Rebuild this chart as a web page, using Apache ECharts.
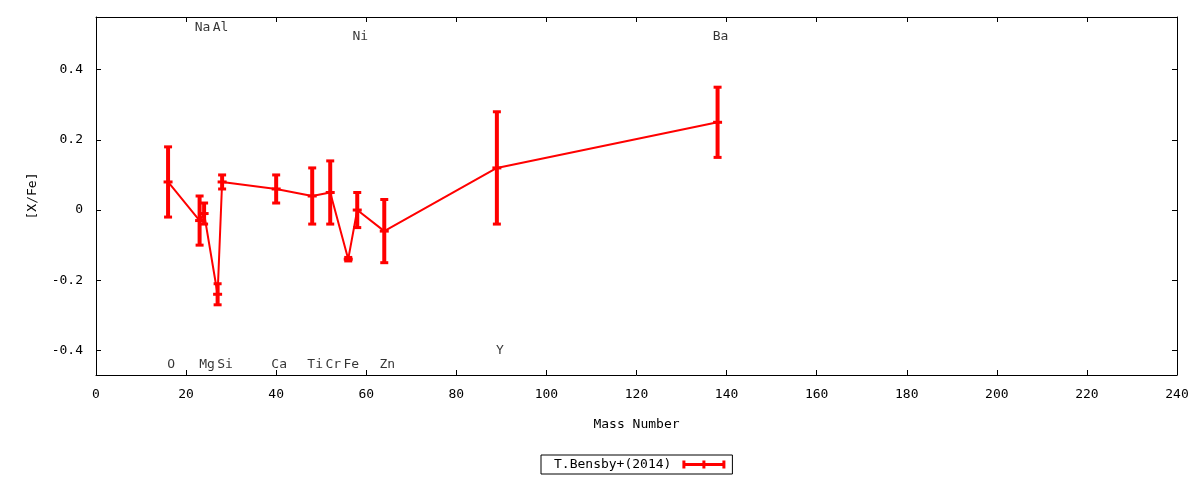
<!DOCTYPE html>
<html>
<head>
<meta charset="utf-8">
<script src="https://cdn.jsdelivr.net/npm/echarts@6/dist/echarts.min.js"></script>
<style>
html,body{margin:0;padding:0;background:#fff;}
#chart{width:1200px;height:480px;}
</style>
</head>
<body>
<div id="chart"></div>
<script>
// ---- data ----
var elements = ['O','Na','Mg','Al','Si','Ca','Ti','Cr','Fe','Ni','Zn','Y','Ba'];
var massNumbers = [16,23,24,27,28,40,48,52,56,58,64,89,138];
var abundances = [0.08,-0.03,-0.01,-0.24,0.08,0.06,0.04,0.05,-0.14,0.00,-0.06,0.12,0.25];
var errors = [0.10,0.07,0.03,0.03,0.02,0.04,0.08,0.09,0.005,0.05,0.09,0.16,0.10];
var labelLevels = [-0.44,0.52,-0.44,0.52,-0.44,-0.44,-0.44,-0.44,-0.44,0.495,-0.44,-0.40,0.495];
var xTicks = [0,20,40,60,80,100,120,140,160,180,200,220,240];
var yTicks = [-0.4,-0.2,0,0.2,0.4];
var seriesName = 'T.Bensby+(2014)';

var FONT = 'DejaVu Sans Mono';
var RED = '#ff0000';

var lineData = massNumbers.map(function(m,i){return [m, abundances[i]];});
var errData = massNumbers.map(function(m,i){return [m, abundances[i], errors[i]];});
var labelData = massNumbers.map(function(m,i){return {value:[m, labelLevels[i]], name: elements[i]};});

var chart = echarts.init(document.getElementById('chart'), null, {renderer:'canvas'});

function renderErr(params, api){
  var x = api.value(0), y = api.value(1), e = api.value(2);
  var pt = api.coord([x, y+e]);
  var pb = api.coord([x, y-e]);
  var pc = api.coord([x, y]);
  var capW = 8, capH = 3, cW = 9;
  return {
    type:'group',
    children:[
      {type:'line', shape:{x1:pt[0], y1:pt[1], x2:pb[0], y2:pb[1]}, style:{stroke:RED, lineWidth:4}},
      {type:'rect', shape:{x:pt[0]-capW/2, y:pt[1]-capH/2, width:capW, height:capH}, style:{fill:RED}},
      {type:'rect', shape:{x:pb[0]-capW/2, y:pb[1]-capH/2, width:capW, height:capH}, style:{fill:RED}},
      {type:'rect', shape:{x:pc[0]-cW/2, y:pc[1]-1.5, width:cW, height:3}, style:{fill:RED}}
    ]
  };
}

function tickCfg(vals){
  var t = {show:true, inside:true, length:5, lineStyle:{color:'#000', width:1}};
  if (vals) t.customValues = vals;
  return t;
}
var lineCfg = {show:true, onZero:false, lineStyle:{color:'#000', width:1}};

var option = {
  backgroundColor:'#fff',
  animation:false,
  grid:{left:96, right:23, top:17, bottom:105, containLabel:false},
  xAxis:[
    {
      type:'value', min:0, max:240, interval:20, position:'bottom',
      name:'Mass Number', nameLocation:'middle', nameGap:43,
      nameTextStyle:{fontFamily:FONT, fontSize:13, color:'#000'},
      axisLine:lineCfg, axisTick:tickCfg(), splitLine:{show:false},
      axisLabel:{show:true, margin:13, fontFamily:FONT, fontSize:13, color:'#000'}
    },
    {
      type:'value', min:0, max:240, interval:20, position:'top',
      axisLine:lineCfg, axisTick:tickCfg(), splitLine:{show:false},
      axisLabel:{show:false}
    }
  ],
  yAxis:[
    {
      type:'value', min:-0.47, max:0.55, position:'left',
      name:'[X/Fe]', nameLocation:'middle', nameGap:57, nameRotate:90,
      nameTextStyle:{fontFamily:FONT, fontSize:13, color:'#000'},
      axisLine:lineCfg, axisTick:tickCfg(yTicks), splitLine:{show:false},
      axisLabel:{show:true, margin:13, fontFamily:FONT, fontSize:13, color:'#000', customValues:yTicks}
    },
    {
      type:'value', min:-0.47, max:0.55, position:'right',
      axisLine:lineCfg, axisTick:tickCfg(yTicks), splitLine:{show:false},
      axisLabel:{show:false, customValues:yTicks}
    }
  ],
  legend:{
    show:true,
    left:541, top:455,
    align:'right',
    orient:'horizontal',
    padding:[3,7,3,13],
    borderColor:'#000', borderWidth:1, borderRadius:0,
    itemWidth:43, itemHeight:8,
    textStyle:{fontFamily:FONT, fontSize:13, color:'#000', padding:[0,6,0,0]},
    data:[{name:seriesName, icon:'path://M0,0h3v8h-3z M40,0h3v8h-3z M20,0h3v8h-3z M0,2.5h43v3h-43z', itemStyle:{color:RED}}]
  },
  series:[
    {
      name:seriesName, type:'line', data:lineData, xAxisIndex:0, yAxisIndex:0,
      showSymbol:false, symbol:'none',
      lineStyle:{color:RED, width:2}, itemStyle:{color:RED}, z:2, silent:true
    },
    {
      name:seriesName, type:'custom', data:errData, xAxisIndex:0, yAxisIndex:0,
      renderItem:renderErr, itemStyle:{color:RED}, z:3, silent:true,
      encode:{x:0, y:1}
    },
    {
      name:'labels', type:'scatter', data:labelData, xAxisIndex:0, yAxisIndex:0,
      symbolSize:1, itemStyle:{color:'rgba(0,0,0,0)'}, silent:true,
      label:{show:true, position:'inside', offset:[3,0], formatter:function(p){return p.name;},
        fontFamily:FONT, fontSize:13, color:'#000'}
    }
  ]
};
chart.setOption(option);
</script>
</body>
</html>
